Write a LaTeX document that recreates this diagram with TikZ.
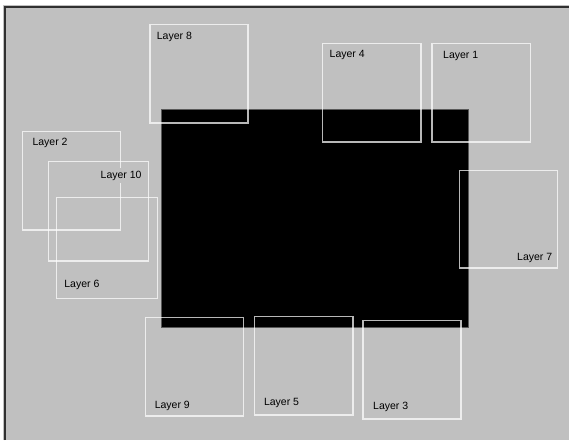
\documentclass[tikz,border=0pt]{standalone}
\usepackage{fontspec}
\setmainfont{Liberation Sans}
\definecolor{panelgray}{HTML}{C0C0C0}
\definecolor{frameline}{HTML}{303030}
\begin{document}
\begin{tikzpicture}[x=1pt,y=-1pt,
  layerbox/.style={draw=white,draw opacity=.72,line width=1.1pt},
  layerlabel/.style={font=\fontsize{10.5}{12}\selectfont,fill=panelgray,inner sep=3pt,anchor=west}]
  \useasboundingbox (0,0) rectangle (569,440);
  % panel
  \fill[panelgray] (3,5) rectangle (569,440);
  \draw[frameline,line width=2pt] (4.5,440) -- (4.5,6.5) -- (569,6.5);
  \fill[black] (161,109) rectangle (468,327);
  \draw[black!65!white,line width=.8pt] (161,109) rectangle (468,327);
  % layer boxes
  \draw[layerbox] (150,24.5) rectangle (248,123);
  \draw[layerbox] (322.5,43.5) rectangle (421,142);
  \draw[layerbox] (432,43.5) rectangle (530.5,142);
  \draw[layerbox] (22.5,131.5) rectangle (120.5,230);
  \draw[layerbox] (48.5,161.5) rectangle (148.5,261);
  \draw[layerbox] (56.5,197.5) rectangle (157.5,298.5);
  \draw[layerbox] (459.5,170.5) rectangle (557.5,268);
  \draw[layerbox] (145.5,317.5) rectangle (243.5,416);
  \draw[layerbox] (254.5,316.5) rectangle (353,415);
  \draw[layerbox] (363,320.5) rectangle (461,419);
  % labels
  \node[layerlabel] (lab8) at (153.7,36.7) {Layer 8};
  \node[layerlabel] (lab4) at (326.5,55) {Layer 4};
  \node[layerlabel] (lab1) at (440,56) {Layer 1};
  \node[layerlabel] (lab2) at (29.3,143.3) {Layer 2};
  \node[layerlabel] (lab10) at (97.5,175.7) {Layer 10};
  \node[layerlabel] (lab6) at (61.2,285) {Layer 6};
  \node[layerlabel] (lab7) at (514,257.7) {Layer 7};
  \node[layerlabel] (lab9) at (151.6,405.7) {Layer 9};
  \node[layerlabel] (lab5) at (260.8,402.7) {Layer 5};
  \node[layerlabel] (lab3) at (370,406.7) {Layer 3};
\end{tikzpicture}
\end{document}
